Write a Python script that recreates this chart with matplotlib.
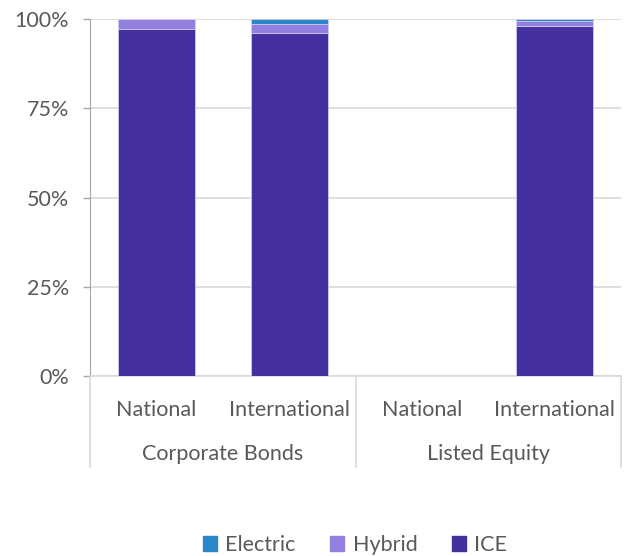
import numpy as np
import matplotlib.pyplot as plt
from matplotlib.patches import Patch

plt.rcParams['font.family'] = ['Lato', 'DejaVu Sans']

# data (share of portfolio, %)
sub_labels = ['National', 'International', 'National', 'International']
groups = ['Corporate Bonds', 'Listed Equity']
ice = [97.1, 96.1, 0.0, 97.9]
hybrid = [2.9, 2.6, 0.0, 1.5]
electric = [0.0, 1.3, 0.0, 0.6]

c_ice = '#4530a0'
c_hyb = '#927fdf'
c_ele = '#2a86c9'
txt = '#595959'
grid_c = '#d9d9d9'
fs = 15.5

fig = plt.figure(figsize=(6.28, 5.56), dpi=100)
ax = fig.add_axes([90/628, 1 - 376/556, (621 - 90)/628, (376 - 19)/556])

x = np.arange(len(sub_labels))
w = 0.58
ax.bar(x, ice, w, color=c_ice, edgecolor='#d8d0f5', linewidth=0.5, zorder=3)
ax.bar(x, hybrid, w, bottom=ice, color=c_hyb, edgecolor='#d8d0f5', linewidth=0.5, zorder=3)
ax.bar(x, electric, w, bottom=np.array(ice) + np.array(hybrid),
       color=c_ele, edgecolor='#d8d0f5', linewidth=0.5, zorder=3)

ax.set_xlim(-0.5, 3.5)
ax.set_ylim(0, 100)
ax.set_yticks([0, 25, 50, 75, 100])
ax.set_yticklabels(['0%', '25%', '50%', '75%', '100%'], fontsize=fs, color=txt)
ax.yaxis.grid(True, color=grid_c, linewidth=1.2, zorder=0)
ax.tick_params(axis='y', length=5, color='#a6a6a6', width=1, pad=10)

for s in ['top', 'right']:
    ax.spines[s].set_visible(False)
ax.spines['left'].set_color('#a6a6a6')
ax.spines['bottom'].set_color(grid_c)
ax.spines['bottom'].set_linewidth(1.2)

ax.set_xticks(x)
ax.set_xticklabels(sub_labels, fontsize=fs, color=txt)
ax.tick_params(axis='x', length=0, pad=17)

# group labels and separators below the axis
trans = ax.get_xaxis_transform()
for i, g in enumerate(groups):
    ax.text(2 * i + 0.5, -0.218, g, transform=trans, ha='center', va='center',
            fontsize=fs, color=txt)
for xs in [-0.5, 1.5, 3.5]:
    ax.plot([xs, xs], [0, -0.256], transform=trans, color=grid_c,
            linewidth=1.2, clip_on=False)

handles = [Patch(color=c_ele, label='Electric'),
           Patch(color=c_hyb, label='Hybrid'),
           Patch(color=c_ice, label='ICE')]
leg = fig.legend(handles=handles, loc='center', bbox_to_anchor=(355/628, 1 - 545/556),
                 ncol=3, frameon=False, fontsize=fs, handlelength=0.65,
                 handleheight=0.65, handletextpad=0.4, columnspacing=1.6)
for t in leg.get_texts():
    t.set_color(txt)

fig.savefig('out.png', dpi=100)
